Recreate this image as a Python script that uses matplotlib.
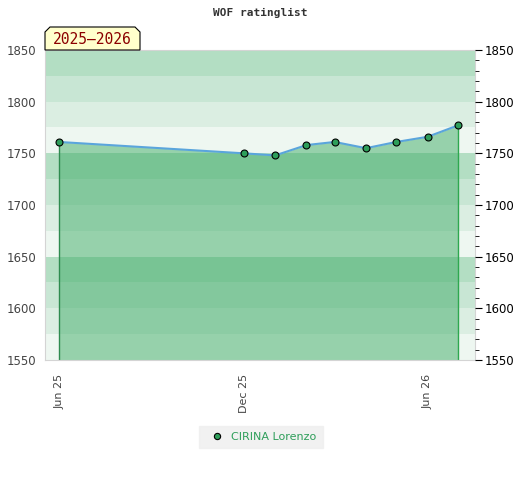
import numpy as np
import pandas as pd
import matplotlib
matplotlib.use('Agg')
import matplotlib.pyplot as plt
import matplotlib.dates as mdates
from matplotlib.patches import Polygon

#=== data ===
dates = ['2025-06-01', '2025-12-01', '2026-01-01', '2026-02-01', '2026-03-01',
         '2026-04-01', '2026-05-01', '2026-06-01', '2026-07-01']
ratings = [1761, 1750, 1748, 1758, 1761, 1755, 1761, 1766, 1777]
player = 'CIRINA Lorenzo'
season = '2025\u20132026'
tick_dates = ['2025-06-01', '2025-12-01', '2026-06-01']
tick_labels = ['Jun 25', 'Dec 25', 'Jun 26']

x = pd.to_datetime(dates)
xn = mdates.date2num(x)
y = np.array(ratings)

W, H = 520, 480
fig = plt.figure(figsize=(5.2, 4.8), dpi=100)
ax = fig.add_axes([45/W, 1-360/H, 430/W, 310/H])

ymin, ymax = 1550, 1850
band_cols = ['#b3dec3', '#c8e6d4', '#dbeee2', '#eef7f1']
for i, lo in enumerate(range(ymax - 25, ymin - 1, -25)):
    ax.axhspan(lo, lo + 25, color=band_cols[i % 4], lw=0, zorder=0)

ax.fill_between(xn, y, ymin, color='#3fac67', alpha=0.5, lw=0, zorder=1)
ax.vlines([xn[0]], ymin, y[0], color='#2e8b4f', lw=1, zorder=2)
ax.vlines([xn[-1]], ymin, y[-1], color='#2ea84f', lw=1, zorder=2)
ax.plot(xn, y, color='#5aa5dc', lw=1.5, zorder=3)
ax.plot(xn, y, ls='none', marker='o', ms=5, mfc='#2e9e5a', mec='black', mew=0.8,
        zorder=4, label=player)

ax.set_ylim(ymin, ymax)
ax.set_xlim(mdates.date2num(pd.Timestamp('2025-05-18')),
            mdates.date2num(pd.Timestamp('2026-07-18')))

ax.set_xticks(mdates.date2num(pd.to_datetime(tick_dates)))
ax.set_xticklabels(tick_labels, rotation=90, fontsize=8, color='#444444')
ax.tick_params(axis='x', length=0, pad=10)
ax.set_yticks(range(ymin, ymax + 1, 50))
ax.tick_params(axis='y', length=0, labelsize=8.5, labelcolor='#444444', pad=6)

for s in ax.spines.values():
    s.set_color('#d4d4d4')

ax2 = ax.twinx()
ax2.set_ylim(ymin, ymax)
ax2.set_yticks(range(ymin, ymax + 1, 50))
ax2.set_yticks(range(ymin, ymax + 1, 10), minor=True)
ax2.tick_params(axis='y', which='major', length=5, labelsize=8.5, color='black', pad=2)
ax2.tick_params(axis='y', which='minor', length=3, color='black')
for s in ax2.spines.values():
    s.set_visible(False)

fig.text(0.5, 1-13/H, 'WOF ratinglist', ha='center', va='center',
         fontsize=8, family='DejaVu Sans Mono', fontweight='bold', color='#333333')

# season tag with cut top corners
bx0, bx1, by0, by1, c = 45, 140, 50, 27, 5
pts = [(bx0, by0), (bx0, by1 + c), (bx0 + c, by1), (bx1 - c, by1), (bx1, by1 + c), (bx1, by0)]
tag = Polygon([(px/W, 1-py/H) for px, py in pts], closed=True, transform=fig.transFigure,
              fc='#ffffcc', ec='black', lw=0.8, zorder=5)
fig.patches.append(tag)
fig.text((bx0 + bx1)/2/W, 1-39.5/H, season, ha='center', va='center', fontsize=10.5,
         color='#8b0000', family='DejaVu Sans Mono', zorder=6)

leg = fig.legend(loc='center', bbox_to_anchor=(261/W, 1-437/H), frameon=True,
                 fontsize=8, handletextpad=0.3, markerscale=0.9, borderpad=0.25)
leg.get_frame().set_facecolor('#eeeeee')
leg.get_frame().set_edgecolor('#eeeeee')
leg.get_frame().set_boxstyle('square')
for t in leg.get_texts():
    t.set_color('#2e9e5a')

fig.savefig('out.png', dpi=100)
